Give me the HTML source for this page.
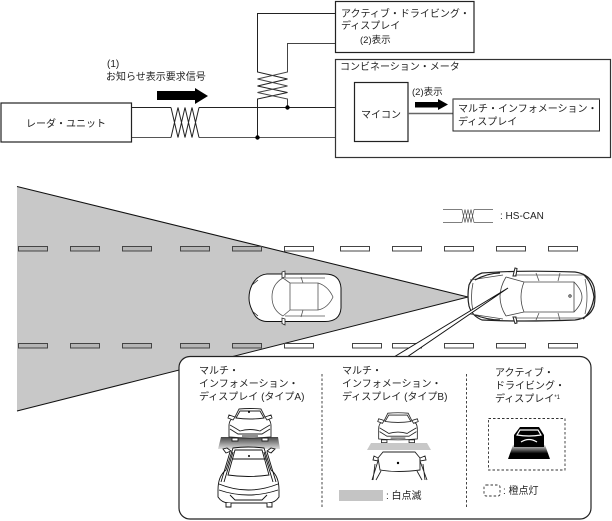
<!DOCTYPE html>
<html lang="ja">
<head>
<meta charset="utf-8">
<style>
html,body{margin:0;padding:0;background:#fff}
svg{display:block}
text{font-family:"Liberation Sans","Noto Sans CJK JP",sans-serif;font-size:10px;fill:#222}
</style>
</head>
<body>
<svg width="612" height="521" viewBox="0 0 612 521" xmlns="http://www.w3.org/2000/svg">
<defs>
<linearGradient id="gA" x1="0" y1="0" x2="0" y2="1"><stop offset="0" stop-color="#444"/><stop offset="1" stop-color="#ddd"/></linearGradient>
<linearGradient id="gC" x1="0" y1="0" x2="0" y2="1"><stop offset="0" stop-color="#ddd"/><stop offset="0.6" stop-color="#000"/><stop offset="1" stop-color="#000"/></linearGradient>
<g id="rear" fill="#fff" stroke="#222" stroke-width="0.9">
<path d="M-11 -15Q0 -16 11 -15L15 -7Q21 -5 21 2V13Q0 15 -21 13V2Q-21 -5 -15 -7Z"/>
<path d="M-10 -13H10L14 -6Q0 -4 -14 -6Z"/>
<path d="M-15 -7L-21 -9L-22 -6L-17 -4ZM15 -7L21 -9L22 -6L17 -4Z"/>
<path d="M-20 1Q-13 5 -10 7Q0 4 10 7Q13 5 20 1M-20 5L-12 10H12L20 5M-8 12H8" fill="none"/>
<path d="M-18 14V17H-12V14ZM18 14V17H12V14Z"/>
</g>
</defs>

<!-- top wiring -->
<g fill="none" stroke="#222" stroke-width="1">
<path d="M131 107.5H171M199 107.5H336"/>
<path d="M131 137.5H171M199 137.5H336" stroke="#555"/>
<path d="M171 107.5L178 137.5L185 107.5L192 137.5L199 107.5"/>
<path d="M171 137.5L178 107.5L185 137.5L192 107.5L199 137.5"/>
<path d="M336 13.5H257.5V72L287.5 79L257.5 86L287.5 92.5L257.5 99V137.5"/>
<path d="M336 43.5H287.5V72L257.5 79L287.5 86L257.5 92.5L287.5 99V107.5" stroke="#444"/>
</g>
<circle cx="257.500" cy="137.500" r="2.2" fill="#000"/>
<circle cx="287.500" cy="107.500" r="2.2" fill="#000"/>

<rect x="1" y="103" width="130.500" height="39" fill="#fff" stroke="#222" stroke-width="1.2"/>
<text x="26" y="127">レーダ・ユニット</text>
<text x="107" y="67">(1)</text>
<text x="106" y="80">お知らせ表示要求信号</text>
<path d="M157 91H195V88L208 96L195 104V100H157Z" fill="#000"/>

<rect x="335.500" y="1.500" width="138.500" height="51" fill="#fff" stroke="#222" stroke-width="1.2"/>
<text x="341" y="17">アクティブ・ドライビング・</text>
<text x="341" y="29">ディスプレイ</text>
<text x="360" y="43" style="font-size:9.5px">(2)表示</text>

<rect x="335.500" y="59.500" width="275" height="98" fill="#fff" stroke="#333" stroke-width="1.2"/>
<text x="340" y="70">コンビネーション・メータ</text>
<rect x="354.500" y="82.500" width="53.500" height="59" fill="#fff" stroke="#222" stroke-width="1.2"/>
<text x="361" y="118">マイコン</text>
<path d="M408 113.500H453" stroke="#666" stroke-width="1.5"/>
<text x="412" y="95" style="font-size:9.5px">(2)表示</text>
<path d="M415 102H438V99L448 104.500L438 110V107.500H415Z" fill="#000"/>
<rect x="453" y="99" width="146.500" height="32" fill="#fff" stroke="#222" stroke-width="1"/>
<path d="M453 99H600" stroke="#666" stroke-width="1.6"/>
<text x="458" y="112">マルチ・インフォメーション・</text>
<text x="458" y="125">ディスプレイ</text>

<!-- legend -->
<g fill="none" stroke="#555" stroke-width="0.7">
<path d="M443 209.500H462M474 209.500H493M443 222.500H462M474 222.500H493"/>
<path d="M462 209.500L465 222.500L468 209.500L471 222.500L474 209.500"/>
<path d="M462 222.500L465 209.500L468 222.500L471 209.500L474 222.500"/>
</g>
<text x="500" y="219">: HS-CAN</text>

<!-- cone -->
<polygon points="17,186.500 468,297 17,411" fill="#c8c8c8"/>
<path d="M17 186.500L468 297L17 411" fill="none" stroke="#111" stroke-width="1"/>

<!-- lane dashes -->
<g fill="none" stroke="#444" stroke-width="1">
<g fill="#b5b5b5">
<rect x="18.500" y="246.500" width="29" height="4.500"/><rect x="70.500" y="246.500" width="29" height="4.500"/><rect x="122.500" y="246.500" width="29" height="4.500"/><rect x="180.500" y="246.500" width="29" height="4.500"/><rect x="232.500" y="246.500" width="29" height="4.500"/>
<rect x="18.500" y="343.500" width="29" height="4.500"/><rect x="70.500" y="343.500" width="29" height="4.500"/><rect x="122.500" y="343.500" width="29" height="4.500"/><rect x="180.500" y="343.500" width="29" height="4.500"/><rect x="232.500" y="343.500" width="29" height="4.500"/>
</g>
<g fill="#fff">
<rect x="284.500" y="246.500" width="29" height="4.500"/><rect x="340.500" y="246.500" width="29" height="4.500"/><rect x="392.500" y="246.500" width="29" height="4.500"/><rect x="444.500" y="246.500" width="29" height="4.500"/><rect x="496.500" y="246.500" width="29" height="4.500"/><rect x="548.500" y="246.500" width="29" height="4.500"/>
<rect x="284.500" y="343.500" width="29" height="4.500"/><rect x="352.500" y="343.500" width="29" height="4.500"/><rect x="392.500" y="343.500" width="29" height="4.500"/><rect x="444.500" y="343.500" width="29" height="4.500"/><rect x="496.500" y="343.500" width="29" height="4.500"/><rect x="548.500" y="343.500" width="29" height="4.500"/>
</g>
</g>

<!-- left car -->
<g fill="#fff" stroke="#555" stroke-width="0.8">
<path d="M267 274H325Q340 274 341 288V308Q340 321.500 325 321.500H267Q256 321 252 310Q249 304 249 298Q249 291 252 285Q257 275 267 274Z" stroke="#111" stroke-width="1"/>
<path d="M282 278L282 272L285 271L285 277ZM282 318L282 323.500L285 325L285 319Z" stroke="#222"/>
<path d="M283 278Q272 284 272 297Q272 310 283 316M283 278L290 283V310L283 316M290 283H318V310H290M318 283Q328 286 333 297Q328 308 318 310" fill="none"/>
<path d="M285 278H325M285 316H325M301 277L303 283M301 317L303 310" fill="none"/>
<path d="M252 285L258 280M252 311L258 316" fill="none" stroke="#222"/>
</g>

<!-- right car -->
<g fill="#fff" stroke="#222" stroke-width="0.8">
<path d="M482 273Q520 270 575 272Q590 274 594 287Q596 297 594 306Q590 318 575 320Q520 322 482 320Q472 316 469 306Q467 296 469 285Q473 276 482 273Z" stroke-width="1.200"/>
<path d="M513 276L515 268L517 268.500L516 276ZM513 317L515 323.500L517 323L516 317Z" stroke-width="1"/>
<path d="M473 283Q470 297 473 311M470 280L503 275M470 314L503 319" fill="none" stroke="#444"/>
<path d="M506 277Q494 297 506 316M506 277L524 282Q518 297 524 312L506 316M524 282H574V312H524M574 282Q582 290 582 297Q582 304 574 312" fill="none" stroke="#444"/>
<path d="M515 275H585M515 318H585M536 273L539 281M536 320L539 313M560 273L558 281M560 320L558 313M585 279Q589 297 585 314" fill="none" stroke="#555"/>
<path d="M475 280Q488 273 500 273M475 315Q488 320 500 320M583 274Q592 282 594 297Q592 311 583 319" fill="none" stroke-width="1.200"/>
<circle cx="570" cy="296" r="1.200"/>
</g>

<!-- leader -->
<polygon points="508,288 394,357 407,357" fill="#fff" stroke="#111" stroke-width="1"/>
<!-- panel -->
<rect x="179" y="356.500" width="412" height="162.500" rx="11" ry="11" fill="#fff" stroke="#222" stroke-width="1.200"/>
<path d="M322 374V507M466.500 374V507" stroke="#444" stroke-width="1" stroke-dasharray="2.500 2" fill="none"/>

<text x="199" y="374">マルチ・</text>
<text x="199" y="387">インフォメーション・</text>
<text x="199" y="400">ディスプレイ (タイプA)</text>
<text x="342" y="374">マルチ・</text>
<text x="342" y="387">インフォメーション・</text>
<text x="342" y="400">ディスプレイ (タイプB)</text>
<text x="495" y="376">アクティブ・</text>
<text x="495" y="389">ドライビング・</text>
<text x="495" y="402">ディスプレイ<tspan style="font-size:6px" dy="-3">*1</tspan></text>

<!-- Col A -->
<polygon points="221,437 278,437 280,449 218,449" fill="url(#gA)"/>
<use href="#rear" transform="translate(250,424)"/>
<g fill="#fff" stroke="#111" stroke-width="0.9">
<path d="M226 453L223 449L227 448L231 451ZM271 453L275 449L271 448L267 451Z"/>
<path d="M233 448Q248 446 264 448L271 470Q279 476 279 490V497Q275 503 268 503H229Q222 503 218 497V490Q218 476 226 470Z"/>
<path d="M235 450H262L269 475Q248 478 228 475Z"/>
<path d="M232 459H266"/>
<path d="M219 484Q248 496 278 484M219 490Q248 500 278 490M230 495L235 500H262L267 495" fill="none"/>
<path d="M230 452L221 482M267 452L276 482M233 452L224 482M264 452L273 482" fill="none"/>
<path d="M226 503V507H231V503M267 503V507H272V503"/>
</g>
<circle cx="249" cy="456" r="1" fill="#000"/>
<circle cx="249" cy="412" r="1" fill="#000"/>

<!-- Col B -->
<polygon points="371,443 427,443 431,450 367,450" fill="#c8c8c8"/>
<use href="#rear" transform="translate(398,427) scale(0.92)"/>
<g fill="#fff" stroke="#222" stroke-width="0.9">
<path d="M383 452H415L420 458V470Q398 473 380 470L378 458Z"/>
<path d="M378 458L374 456L373 460L378 461ZM420 458L425 456L426 460L420 461Z"/>
<path d="M378 461L372 480M381 471L376 480M375 464L373 480M420 461L427 480M417 471L422 480M423 464L425 480" fill="none"/>
</g>
<circle cx="398" cy="463" r="1.200" fill="#000"/>
<rect x="339" y="490" width="44" height="11" fill="#c4c4c4"/>
<text x="386" y="499">: 白点滅</text>

<!-- Col C -->
<rect x="488.500" y="418.500" width="76.500" height="51.500" fill="#fff" stroke="#333" stroke-width="0.9" stroke-dasharray="2.500 2"/>
<polygon points="513,445 545,445 550,459 508,459" fill="url(#gC)"/>
<path d="M520 427H539L544 435V447H514V435Z" fill="#000"/>
<path d="M520 430H538L541 435Q529 437 517 435ZM521 442Q529 437 537 442" fill="none" stroke="#fff" stroke-width="1.200"/>
<rect x="484" y="485" width="16" height="11" rx="2" fill="#fff" stroke="#333" stroke-width="0.9" stroke-dasharray="2.500 2"/>
<text x="503" y="494">: 橙点灯</text>
</svg>
</body>
</html>
